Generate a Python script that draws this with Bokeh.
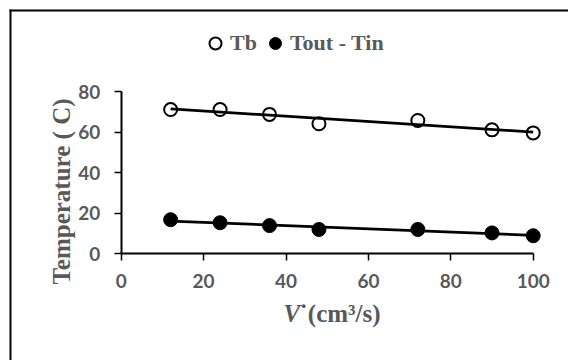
import numpy as np
from bokeh.plotting import figure
from bokeh.models import Range1d, Legend, LegendItem, Label, FixedTicker, BoxAnnotation
from bokeh.embed import file_html
from bokeh.resources import INLINE

# ---- data ----
flow = [12, 24, 36, 48, 72, 90, 100]               # V (cm3/s)
tb = [71.1, 71.1, 68.7, 64.1, 65.7, 61.1, 59.6]     # Tb
dt = [16.8, 15.3, 13.9, 12.0, 12.0, 10.3, 8.9]      # Tout - Tin
x_ticks = [0, 20, 40, 60, 80, 100]
y_ticks = [0, 20, 40, 60, 80]
series_names = ["Tb", "Tout - Tin"]
y_title = "Temperature ( C)"

GRAY = "#595959"
W, H = 568, 360
# pixel layout of the axes inside the canvas
X0_PX, X100_PX = 120.7, 532.7
Y0_PX, Y80_PX = 253.3, 91.0
xs_per_px = 100.0 / (X100_PX - X0_PX)
ys_per_px = 80.0 / (Y0_PX - Y80_PX)

p = figure(width=W, height=H, output_backend="svg", toolbar_location=None,
           x_range=Range1d(-X0_PX * xs_per_px, (W - X0_PX) * xs_per_px),
           y_range=Range1d(-(H - Y0_PX) * ys_per_px, Y0_PX * ys_per_px),
           min_border=0)
p.outline_line_color = None
p.xgrid.visible = False
p.ygrid.visible = False

for ax, ticks, b in ((p.xaxis[0], x_ticks, (0, 100)), (p.yaxis[0], y_ticks, (0, 80))):
    ax.fixed_location = 0
    ax.ticker = FixedTicker(ticks=ticks)
    ax.bounds = b
    ax.axis_line_width = 2
    ax.axis_line_color = "black"
    ax.major_tick_line_width = 1.5
    ax.major_tick_line_color = "black"
    ax.major_tick_out = 7
    ax.major_tick_in = 0
    ax.minor_tick_line_color = None
    ax.major_label_text_font = "Lato"
    ax.major_label_text_font_style = "bold"
    ax.major_label_text_font_size = "19px"
    ax.major_label_text_color = GRAY

p.xaxis.major_label_standoff = 13
p.yaxis.major_label_standoff = 14

# chart area border: left and top edges only
border = dict(fill_color="black", fill_alpha=1, line_color=None,
              left_units="screen", right_units="screen",
              top_units="screen", bottom_units="screen")
p.add_layout(BoxAnnotation(left=9, right=11, top=H - 9, bottom=None, **border))
p.add_layout(BoxAnnotation(left=9, right=None, top=H - 9, bottom=H - 11, **border))

# markers
r_tb = p.scatter(flow, tb, size=13, marker="circle", fill_color="white",
                 line_color="black", line_width=2)
r_dt = p.scatter(flow, dt, size=14, marker="circle", fill_color="black",
                 line_color="black", line_width=1)

# linear trendlines
xs = np.array(flow, dtype=float)
for ys in (tb, dt):
    k, c = np.polyfit(xs, np.array(ys, dtype=float), 1)
    xe = np.array([xs.min(), xs.max()])
    p.line(xe, k * xe + c, line_color="black", line_width=2.75)

legend = Legend(items=[LegendItem(label=series_names[0], renderers=[r_tb]),
                       LegendItem(label=series_names[1], renderers=[r_dt])],
                location=(200, H - 58), orientation="horizontal",
                glyph_width=30, glyph_height=30, label_standoff=-3, spacing=3,
                padding=0, margin=0, border_line_color=None, background_fill_alpha=0,
                label_text_font="Liberation Serif", label_text_font_style="bold",
                label_text_font_size="22px", label_text_color=GRAY)
p.add_layout(legend, "center")

# y axis title (rotated)
p.add_layout(Label(x=61, y=H - 191, x_units="screen", y_units="screen", text=y_title,
                   angle=np.pi / 2, text_align="center", text_baseline="alphabetic",
                   text_font="Liberation Serif", text_font_style="bold",
                   text_font_size="25px", text_color=GRAY))

# x axis title: italic V with a dot, then (cm³/s)
p.add_layout(Label(x=283, y=H - 326, x_units="screen", y_units="screen", text="V",
                   text_font="Liberation Serif", text_font_style="bold italic",
                   text_font_size="25px", text_color=GRAY))
p.add_layout(Label(x=299, y=H - 326, x_units="screen", y_units="screen", text="˙(cm³/s)",
                   text_font="Liberation Serif", text_font_style="bold",
                   text_font_size="25px", text_color=GRAY))

open("out.html", "w").write(file_html(p, INLINE))
